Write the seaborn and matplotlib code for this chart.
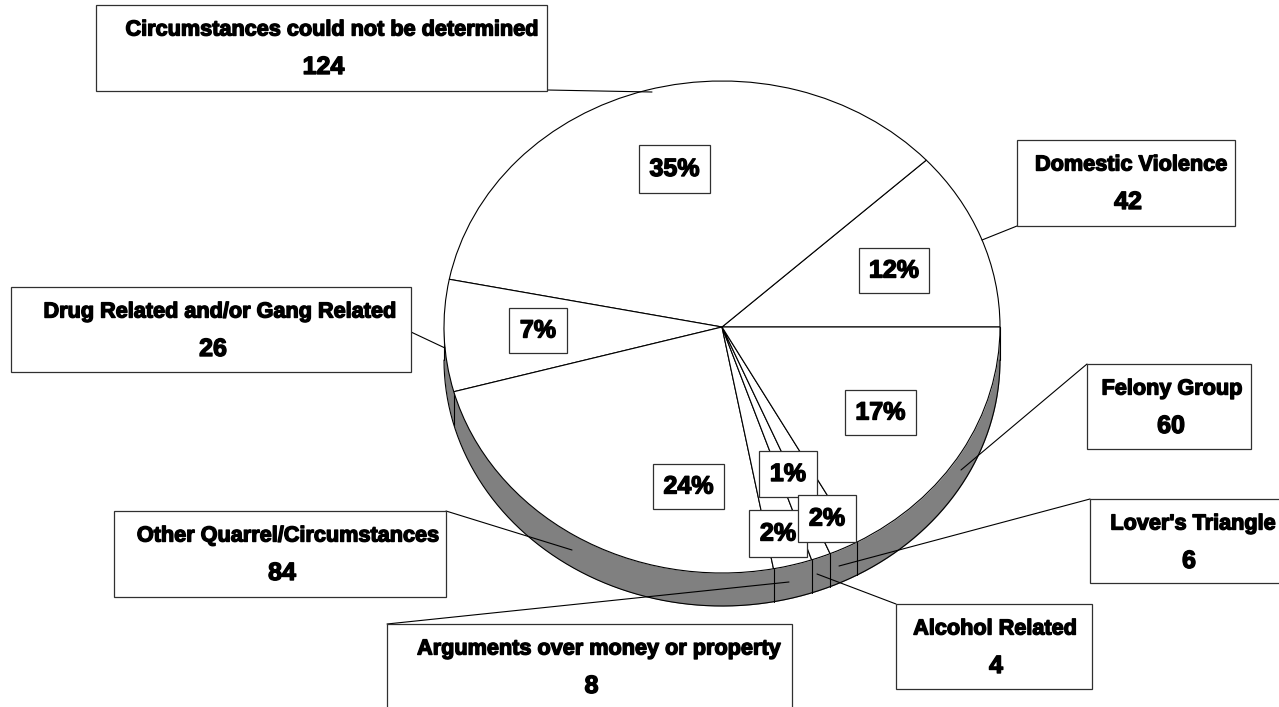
import numpy as np
import matplotlib
matplotlib.use('Agg')
import matplotlib.pyplot as plt
import matplotlib.patheffects as pe
from matplotlib.patches import Rectangle
import seaborn as sns

W, H = 1279, 707

categories = ['Domestic Violence', 'Circumstances could not be determined',
              'Drug Related and/or Gang Related', 'Other Quarrel/Circumstances',
              'Arguments over money or property', 'Alcohol Related',
              "Lover's Triangle", 'Felony Group']
counts = [42, 124, 26, 84, 8, 4, 6, 60]

# layout in image pixels: box x0, y0, x1, y1 / label centre x / leader line
label_boxes = [(1017, 140, 1235, 226), (96, 5, 547, 91), (11, 287, 411, 372), (114, 511, 446, 597),
               (387, 624, 792, 712), (896, 604, 1092, 689), (1090, 499, 1284, 583), (1087, 364, 1251, 449)]
label_x = [1131, 332, 220, 288, 599, 995, 1193, 1172]
leaders = [((1017, 226), (982, 240)), ((547, 90), (652, 92)), ((411, 332), (445, 348)), ((446, 511), (572, 550)),
           ((387, 624), (789, 582)), ((896, 604), (817, 574)), ((1090, 499), (839, 566)), ((1087, 364), (961, 470))]
pct_boxes = [(859, 248, 929, 293), (639, 145, 710, 193), (509, 308, 567, 353), (653, 464, 724, 509),
             (749, 510, 807, 557), (759, 451, 817, 497), (798, 495, 856, 542), (845, 390, 916, 435)]

CX, CY, RX, RY, DEPTH = 722, 327, 278, 246, 33

sns.set_theme(style='white')
plt.rcParams['font.family'] = ['Liberation Sans', 'DejaVu Sans']

fig = plt.figure(figsize=(W / 100, H / 100), dpi=100, facecolor='white')

# pie axes: one data unit is RX px across and RY px down, which gives the ellipse
ax = fig.add_axes([0, 0, 1, 1])
ax.pie(counts, startangle=0, counterclock=True, radius=1,
       colors=['white'] * len(counts),
       wedgeprops={'edgecolor': 'black', 'linewidth': 0.8, 'zorder': 3})
ax.set_aspect('auto')
ax.set_xlim(-CX / RX, (W - CX) / RX)
ax.set_ylim(-(H - CY) / RY, CY / RY)
ax.axis('off')

# side wall under the front half
d = DEPTH / RY
t = np.linspace(np.pi, 2 * np.pi, 300)
ax.fill_between(np.cos(t), np.sin(t), np.sin(t) - d, color='#808080', lw=0, zorder=1)
ax.plot(np.cos(t), np.sin(t) - d, color='black', lw=0.8, zorder=2)
bounds = np.cumsum(counts) / np.sum(counts) * 2 * np.pi
for b in bounds:
    if np.sin(b) < -1e-6:
        ax.plot([np.cos(b)] * 2, [np.sin(b), np.sin(b) - d], color='black', lw=0.8, zorder=2)
ax.plot([-1, -1], [0, -d], color='black', lw=0.8, zorder=2)
ax.plot([1, 1], [0, -d], color='black', lw=0.8, zorder=2)

# overlay in image pixels for leaders and labels
ov = fig.add_axes([0, 0, 1, 1])
ov.set_xlim(0, W)
ov.set_ylim(H, 0)
ov.axis('off')
ov.patch.set_alpha(0)

EDGE = '#303030'
heavy = [pe.withStroke(linewidth=1.0, foreground='black')]
for (a, b) in leaders:
    ov.plot([a[0], b[0]], [a[1], b[1]], color='black', lw=0.8, zorder=4)

total = sum(counts)
for name, n, box, lx in zip(categories, counts, label_boxes, label_x):
    x0, y0, x1, y1 = box
    ov.add_patch(Rectangle((x0, y0), x1 - x0, y1 - y0, fc='white', ec=EDGE, lw=0.9, zorder=5))
    ov.text(lx, y0 + 25, name, ha='center', va='center', fontsize=15.6, fontweight='bold', zorder=6,
            color='black', path_effects=heavy)
    ov.text((x0 + min(x1, W + 5)) / 2 + 2, y0 + 62, str(n), ha='center', va='center', fontsize=18,
            fontweight='bold', zorder=6, color='black', path_effects=heavy)

for n, box in zip(counts, pct_boxes):
    x0, y0, x1, y1 = box
    ov.add_patch(Rectangle((x0, y0), x1 - x0, y1 - y0, fc='white', ec=EDGE, lw=0.9, zorder=5))
    ov.text((x0 + x1) / 2, (y0 + y1) / 2, f'{n / total:.0%}', ha='center', va='center', fontsize=18,
            fontweight='bold', zorder=6, color='black', path_effects=heavy)

fig.savefig('out.png', dpi=100)
